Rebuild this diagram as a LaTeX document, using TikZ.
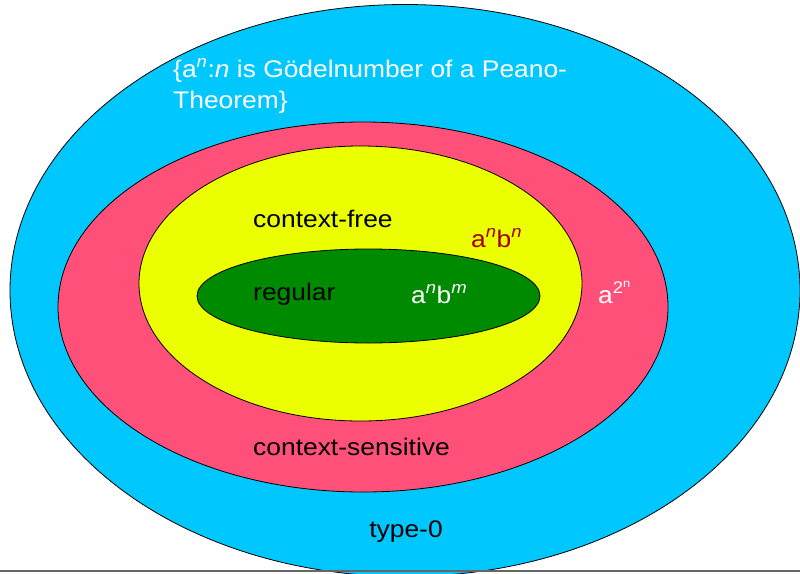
\documentclass[tikz,border=0pt]{standalone}
\usepackage{fontspec}
\setmainfont{Liberation Sans}
\definecolor{cyanfill}{RGB}{0,200,255}
\definecolor{pinkfill}{RGB}{255,80,122}
\definecolor{yellowfill}{RGB}{235,255,0}
\definecolor{greenfill}{RGB}{0,138,0}
\definecolor{darkred}{RGB}{160,0,0}
\begin{document}
\begin{tikzpicture}[x=1pt,y=-1pt,
  set/.style={draw=black,line width=0.8pt},
  lbl/.style={font=\fontsize{24}{31}\selectfont,inner sep=0pt,xscale=1.1,transform shape},
]
\useasboundingbox (0,0) rectangle (800,573);
\begin{scope}
\clip (0,0) rectangle (800,573);
\fill[white] (0,0) rectangle (800,573);
\draw[set,fill=cyanfill] (405,290.5) ellipse [x radius=395, y radius=286];
\draw[set,fill=pinkfill] (363,307) ellipse [x radius=305, y radius=185];
\draw[set,fill=yellowfill] (360.5,283.5) ellipse [x radius=221.5, y radius=137.5];
\draw[set,fill=greenfill] (368.5,296) ellipse [x radius=171.5, y radius=47];
\draw[line width=2pt,color=black!60] (0,571) coordinate (bl) -- (800,571) coordinate (br);
\end{scope}
\node[lbl,anchor=base west,text=white] (t1) at (173,77) {\{a\textsuperscript{\textit{n}}:\textit{n} is Gödelnumber of a Peano-};
\node[lbl,anchor=base west,text=white] (t2) at (173,108) {Theorem\}};
\node[lbl,anchor=base west] (cf) at (253,227) {context-free};
\node[lbl,anchor=base west,text=darkred] (anbn) at (471,247) {a\textsuperscript{\textit{n}}b\textsuperscript{\textit{n}}};
\node[lbl,anchor=base west] (reg) at (253,300) {regular};
\node[lbl,anchor=base west,text=white] (anbm) at (411,303) {a\textsuperscript{\textit{n}}b\textsuperscript{\textit{m}}};
\node[lbl,anchor=base west,text=white] (a2n) at (598,303) {a\textsuperscript{2\textsuperscript{n}}};
\node[lbl,anchor=base west] (cs) at (253,455) {context-sensitive};
\node[lbl,anchor=base] (t0) at (406,537) {type-0};
\end{tikzpicture}
\end{document}
